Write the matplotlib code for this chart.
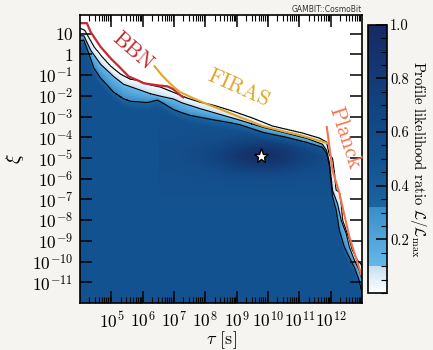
import numpy as np
import matplotlib
matplotlib.use('Agg')
import matplotlib.pyplot as plt
from matplotlib.colors import LinearSegmentedColormap
from matplotlib.ticker import FixedLocator, LogLocator, FuncFormatter, MultipleLocator, NullFormatter

plt.rcParams['font.family'] = 'serif'
plt.rcParams['font.serif'] = ['cmr10']
plt.rcParams['mathtext.fontset'] = 'cm'
plt.rcParams['axes.unicode_minus'] = False
plt.rcParams['axes.formatter.use_mathtext'] = True

# ---- data (log10 tau[s], log10 xi) ----
# edge of the sampled region (L/Lmax ~ 0)
outer_logtau = [4.0, 4.15, 4.28, 4.44, 4.66, 4.98, 5.30, 5.61, 5.84, 6.15, 6.57, 6.98, 7.42, 7.84,
                8.25, 8.88, 9.52, 10.15, 11.11, 11.64, 11.87, 11.96, 12.06, 12.12, 12.17, 12.28,
                12.34, 12.38, 12.60, 12.69, 12.85, 12.98, 13.0]
outer_logxi = [1.26, 1.16, 0.82, 0.39, -0.04, -0.57, -0.96, -1.20, -1.25, -1.44, -1.58, -1.83, -2.11,
               -2.31, -2.45, -2.74, -3.08, -3.46, -3.80, -4.04, -4.23, -4.86, -5.00, -5.68, -6.54,
               -6.64, -7.26, -7.99, -8.95, -9.43, -9.91, -10.15, -10.3]
# L/Lmax = 0.1 contour
mid_logtau = [4.0, 4.12, 4.34, 4.66, 5.07, 5.39, 5.84, 6.25, 6.57, 6.98, 7.26, 7.84, 8.47, 9.11,
              9.84, 10.60, 11.23, 11.74, 11.87, 11.96, 12.06, 12.22, 12.34, 12.50, 12.60, 12.76,
              12.91, 12.98, 13.0]
mid_logxi = [0.90, 0.90, 0.20, -0.48, -1.06, -1.44, -1.68, -1.90, -2.02, -2.15, -2.34, -2.62, -2.90,
             -3.18, -3.52, -3.81, -4.05, -4.34, -4.64, -5.22, -6.58, -7.20, -8.02, -8.64, -9.30,
             -9.93, -10.41, -10.75, -10.82]
# L/Lmax = 0.32 contour
in_logtau = [4.0, 4.12, 4.28, 4.44, 4.66, 4.88, 5.07, 5.39, 5.61, 6.15, 6.47, 6.66, 6.98, 7.20,
             7.52, 7.84, 8.25, 8.79, 9.11, 9.84, 10.60, 11.23, 11.74, 11.87, 11.96, 12.06, 12.18,
             12.28, 12.44, 12.60, 12.76, 12.91, 12.98, 13.0]
in_logxi = [0.66, 0.70, 0.05, -0.65, -1.15, -1.50, -1.82, -2.14, -2.26, -2.32, -2.20, -2.36, -2.66,
            -2.79, -2.95, -3.04, -3.16, -3.30, -3.40, -3.77, -4.01, -4.25, -4.49, -4.78, -5.36,
            -6.85, -7.52, -8.49, -9.30, -9.79, -10.27, -10.89, -11.37, -11.52]
core_level = 0.5

bestfit_logtau = 9.79
bestfit_logxi = -4.89

# constraint curves
bbn_logtau = [4.0, 4.22, 4.34, 4.66, 4.98, 5.30, 5.55, 5.84, 6.03, 6.47, 6.79, 6.98, 7.20, 7.30]
bbn_logxi = [1.51, 1.51, 1.08, 0.36, -0.19, -0.67, -1.06, -1.25, -1.39, -1.49, -1.54, -1.68, -1.97, -2.07]
firas_logtau = [6.38, 6.60, 6.79, 7.00, 7.20, 7.61, 8.06, 8.47, 9.11, 9.84, 10.60, 11.01, 11.90]
firas_logxi = [-0.57, -0.98, -1.28, -1.58, -1.82, -2.11, -2.40, -2.64, -3.03, -3.46, -3.75, -3.89, -4.28]
planck_logtau = [11.88, 12.06, 12.28, 12.60, 12.98]
planck_logxi = [-3.50, -5.58, -6.69, -8.80, -10.63]

# ---- profile likelihood map ----
lt = np.linspace(4, 13, 721)
lx = np.linspace(-12, 2, 561)
LT, LX = np.meshgrid(lt, lx)
YO = np.interp(lt, outer_logtau, outer_logxi)[None, :]
YM = np.interp(lt, mid_logtau, mid_logxi)[None, :]
YI = np.interp(lt, in_logtau, in_logxi)[None, :]
YO, YM, YI = [np.broadcast_to(a, LT.shape) for a in (YO, YM, YI)]

L = np.zeros_like(LT)
b1 = (LX <= YO) & (LX > YM)
t1 = (YO - LX) / np.maximum(YO - YM, 1e-6)
L[b1] = 0.01 + 0.09 * t1[b1]
b2 = (LX <= YM) & (LX > YI)
t2 = (YM - LX) / np.maximum(YM - YI, 1e-6)
L[b2] = 0.1 + 0.22 * t2[b2]
core = LX <= YI
blob = 0.38 * np.exp(-((LT - bestfit_logtau) / 1.4) ** 2 - ((LX - bestfit_logxi) / 0.75) ** 2)
band = 0.06 * np.exp(-((LX - bestfit_logxi) / 1.6) ** 2) * (LT > 6.5)
L_core = 0.32 + (core_level - 0.32) * np.clip((YI - LX) / 0.4, 0, 1) + blob + band
L[core] = np.clip(L_core[core], 0, 1)
Lm = np.ma.masked_less(L, 0.005)

cmap = LinearSegmentedColormap.from_list('like', [
    (0.0, '#ffffff'), (0.1, '#c4def2'), (0.1, '#66b8e8'), (0.32, '#3a8cc8'),
    (0.32, '#1a65a0'), (0.5, '#135290'), (0.75, '#123f7a'), (1.0, '#172962')])

fig = plt.figure(figsize=(4.33, 3.5), dpi=100, facecolor='#f5f4f0')
ax = fig.add_axes([0.1848, 0.134, 0.651, 0.823])
ax.set_facecolor('white')
ax.set_xscale('log')
ax.set_yscale('log')

mesh = ax.pcolormesh(10 ** lt, 10 ** lx, Lm, cmap=cmap, vmin=0, vmax=1, shading='auto',
                     rasterized=True)
ax.contour(10 ** lt, 10 ** lx, L, levels=[0.005, 0.1, 0.32], colors='k', linewidths=0.8)

ax.plot(10 ** np.array(bbn_logtau), 10 ** np.array(bbn_logxi), color='#c42a2e', lw=1.6)
ax.plot(10 ** np.array(firas_logtau), 10 ** np.array(firas_logxi), color='#e0a42a', lw=1.5)
ax.plot(10 ** np.array(planck_logtau), 10 ** np.array(planck_logxi), color='#f4734f', lw=1.5)
ax.plot(10 ** bestfit_logtau, 10 ** bestfit_logxi, marker='*', ms=11, mfc='white', mec='k', mew=1)

ax.text(10 ** 5.68, 10 ** 0.18, 'BBN', color='#c42a2e', fontsize=15.5, rotation=-41,
        ha='center', va='center', rotation_mode='anchor')
ax.text(10 ** 9.06, 10 ** -1.63, 'FIRAS', color='#e0a42a', fontsize=15.5, rotation=-24,
        ha='center', va='center', rotation_mode='anchor')
ax.text(10 ** 12.45, 10 ** -4.05, 'Planck', color='#f4734f', fontsize=15.5, rotation=-72,
        ha='center', va='center', rotation_mode='anchor')

ax.set_xlim(1e4, 1e13)
ax.set_ylim(1e-12, 10 ** 1.9)

xt = [10.0 ** k for k in range(5, 13)]
ax.xaxis.set_major_locator(FixedLocator(xt))
ax.xaxis.set_major_formatter(FuncFormatter(lambda v, p: r'$10^{%d}$' % round(np.log10(v))))
ax.xaxis.set_minor_locator(LogLocator(base=10, subs=np.arange(2, 10), numticks=40))
ax.xaxis.set_minor_formatter(NullFormatter())


def yfmt(v, p):
    k = int(round(np.log10(v)))
    if k == 1:
        return r'$10$'
    if k == 0:
        return r'$1$'
    return r'$10^{%d}$' % k


yt = [10.0 ** k for k in range(-11, 2)]
ax.yaxis.set_major_locator(FixedLocator(yt))
ax.yaxis.set_major_formatter(FuncFormatter(yfmt))
ax.yaxis.set_minor_locator(FixedLocator([]))

ax.tick_params(which='both', direction='in', top=True, right=True, labelsize=12.5)
ax.tick_params(which='major', length=8.5, width=1.1, pad=5)
ax.tick_params(which='minor', length=4.3, width=0.8)
for s in ax.spines.values():
    s.set_linewidth(1.2)

ax.set_xlabel(r'$\tau$ [s]', fontsize=13, labelpad=-1)
ax.set_ylabel(r'$\xi$', fontsize=14, labelpad=4)

cax = fig.add_axes([0.850, 0.163, 0.044, 0.766])
cb = fig.colorbar(mesh, cax=cax)
cb.set_ticks([0.2, 0.4, 0.6, 0.8, 1.0])
cb.set_ticklabels(['0.2', '0.4', '0.6', '0.8', '1.0'])
cax.yaxis.set_minor_locator(MultipleLocator(0.05))
cax.tick_params(which='both', direction='in', labelsize=10.5, pad=2)
cax.tick_params(which='major', length=8, width=1.1)
cax.tick_params(which='minor', length=4.3, width=0.8)
cb.outline.set_linewidth(1.2)
cb.set_label(r'Profile likelihood ratio $\mathcal{L}/\mathcal{L}_{\max}$', rotation=270,
             fontsize=10.5, labelpad=14)

fig.text(0.836, 0.974, 'GAMBIT::CosmoBit', ha='right', va='center', fontsize=5.5,
         family='DejaVu Sans', color='#333333')

fig.savefig('out.png', dpi=100, facecolor=fig.get_facecolor())
